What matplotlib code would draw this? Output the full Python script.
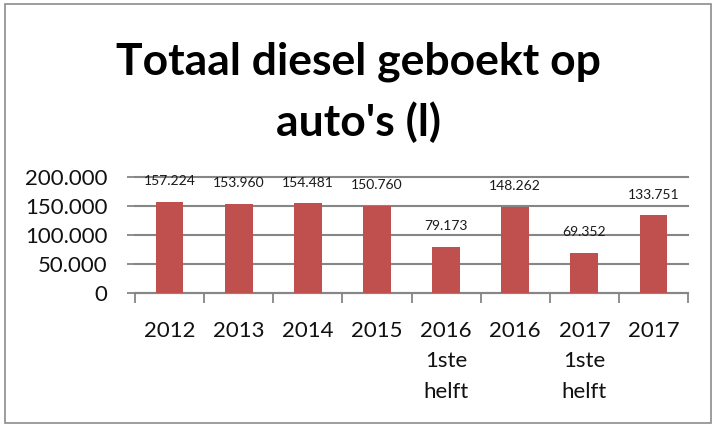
import numpy as np
import matplotlib.pyplot as plt
from matplotlib.patches import Rectangle
from matplotlib.ticker import FuncFormatter, FixedLocator

plt.rcParams['font.family'] = ['Lato', 'DejaVu Sans']

# data
categories = ['2012', '2013', '2014', '2015', '2016\n1ste\nhelft', '2016', '2017\n1ste\nhelft', '2017']
liters = [157224, 153960, 154481, 150760, 79173, 148262, 69352, 133751]
y_ticks = [0, 50000, 100000, 150000, 200000]


def dutch(v, pos=None):
    return '{:,.0f}'.format(v).replace(',', '.')


fig = plt.figure(figsize=(7.16, 4.25), dpi=100)
W, H = 716, 425
ax = fig.add_axes([135 / W, 1 - 293 / H, (688 - 135) / W, (293 - 177) / H])

x = np.arange(len(categories))
ax.bar(x, liters, width=0.4, color='#C0504D', zorder=3)

for xi, v in zip(x, liters):
    ax.annotate(dutch(v), (xi, v), xytext=(0, 15), textcoords='offset points',
                ha='center', va='center', fontsize=10, color='#1a1a1a', zorder=4)

ax.set_xlim(-0.5, len(categories) - 0.5)
ax.set_ylim(0, 200000)
ax.set_yticks(y_ticks)
ax.yaxis.set_major_formatter(FuncFormatter(dutch))
ax.grid(axis='y', color='#868686', linewidth=1.5, zorder=0)
for gl in ax.get_ygridlines():
    gl.set_clip_on(False)

ax.set_xticks(x)
ax.set_xticklabels(categories, linespacing=1.65, va='top')
ax.xaxis.set_minor_locator(FixedLocator(np.arange(-0.5, len(categories), 1)))
ax.tick_params(axis='x', which='major', length=0, pad=20, labelsize=16, labelcolor='#111111')
ax.tick_params(axis='x', which='minor', length=7, width=1.3, color='#868686', direction='out')
ax.tick_params(axis='y', length=6, width=1.3, color='#868686', labelsize=16, pad=14,
               labelcolor='#111111')

for s in ['top', 'right', 'left']:
    ax.spines[s].set_visible(False)
ax.spines['bottom'].set_color('#868686')
ax.spines['bottom'].set_linewidth(1.5)

fig.text(0.5, 1 - 62 / H, "Totaal diesel geboekt op", ha='center', va='center',
         fontsize=32, fontweight='bold')
fig.text(0.5, 1 - 122 / H, "auto's (l)", ha='center', va='center',
         fontsize=32, fontweight='bold')

fig.patches.append(Rectangle((5 / W, 2 / H), (W - 10) / W, (H - 6) / H, transform=fig.transFigure,
                             fill=False, edgecolor='#8c8c8c', linewidth=1.2))

fig.savefig('out.png', dpi=100)
